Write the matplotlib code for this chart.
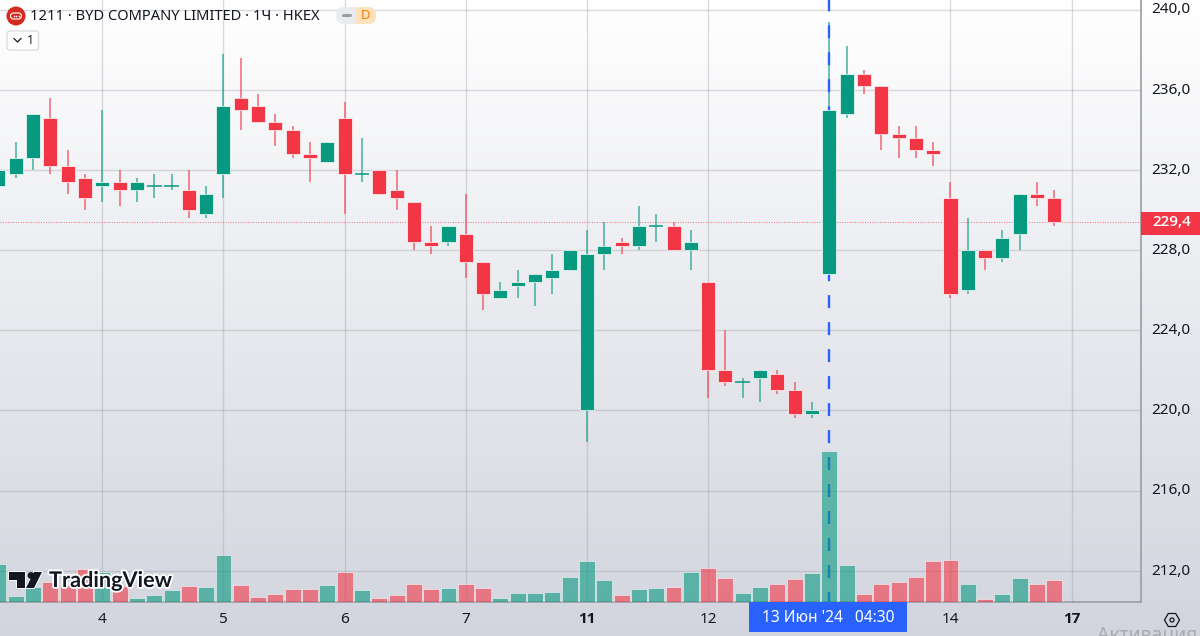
import numpy as np
import matplotlib
matplotlib.use('Agg')
from matplotlib import pyplot as plt
from matplotlib import ticker
from matplotlib.colors import LinearSegmentedColormap
from matplotlib.patches import Circle, FancyBboxPatch, Polygon, Rectangle, RegularPolygon
from matplotlib.transforms import ScaledTranslation
import matplotlib.patheffects as pe

# candle data, first candle is index -6, index 0 is the "4" day tick
opens = [231.2,231.8,232.6,234.6,232.2,231.6,231.2,231.4,231.0,231.2,231.2,231.0,229.8,231.8,
         235.6,235.2,234.4,234.0,232.8,232.4,234.6,231.8,232.0,231.0,230.4,228.4,228.4,228.8,
         227.4,225.6,226.2,226.4,226.6,227.0,220.0,227.8,228.4,228.2,229.2,229.2,228.0,226.4,
         222.0,221.4,221.6,221.8,221.0,219.8,226.8,234.8,236.8,236.2,233.8,233.6,233.0,230.6,
         226.0,228.0,227.6,228.8,230.8,230.6]
highs = [232.0,233.4,234.8,235.6,233.0,231.8,235.0,232.0,231.6,231.8,231.8,232.0,231.2,237.8,
         237.6,235.8,234.8,234.2,233.4,233.4,235.4,233.6,232.0,232.0,230.4,229.2,229.2,230.8,
         227.4,226.4,227.0,226.8,227.8,228.0,229.0,229.4,228.6,230.2,229.8,229.4,229.0,226.4,
         224.0,221.6,222.0,222.0,221.4,220.4,239.4,238.2,237.0,236.2,234.2,234.2,233.4,231.4,
         229.6,228.0,229.0,230.8,231.4,231.0]
lows = [231.2,231.6,232.0,231.8,230.8,230.0,230.4,230.2,230.4,230.6,231.0,229.6,229.6,230.6,
        234.0,234.4,233.2,232.6,231.4,232.4,229.8,231.4,230.8,230.0,228.0,227.8,228.2,226.6,
        225.0,225.6,225.6,225.2,225.8,227.0,218.4,227.0,227.8,228.0,228.4,228.0,227.0,220.6,
        221.2,220.6,220.4,220.8,219.6,219.6,226.6,234.6,235.8,233.0,232.6,232.6,232.2,225.6,
        225.8,227.0,227.4,228.0,230.2,229.2]
closes = [232.0,232.6,234.8,232.2,231.4,230.6,231.4,231.0,231.4,231.2,231.2,230.0,230.8,235.2,
          235.0,234.4,234.0,232.8,232.6,233.4,231.8,231.8,230.8,230.6,228.4,228.2,229.2,227.4,
          225.8,226.0,226.4,226.8,227.0,228.0,227.8,228.2,228.2,229.2,229.2,228.0,228.4,222.0,
          221.4,221.4,222.0,221.0,219.8,220.0,235.0,236.8,236.2,233.8,233.6,233.0,232.8,225.8,
          228.0,227.6,228.6,230.8,230.6,229.4]
volumes = [38,6,15,20,17,33,30,16,4,7,12,16,15,47,17,5,8,13,13,17,30,12,4,7,18,13,14,18,14,4,
           9,9,10,25,41,22,7,13,14,15,30,34,24,9,15,18,23,29,151,37,8,18,20,25,41,42,18,3,8,24,18,22]

price_ticks = [212, 216, 220, 224, 228, 232, 236, 240]
day_ticks = [0, 7, 14, 21, 28, 35, 49, 56]
day_labels = ['4', '5', '6', '7', '11', '12', '14', '17']
bold_days = ['11', '17']
last_price = 229.4
cross_index = 42
cross_label = "13 Июн '24   04:30"

GREEN = '#089981'
RED = '#F23645'
BLUE = '#2962FF'
TEXT = '#131722'
GRID = '#9598a1'
W, H = 1200, 636
plt.rcParams['font.family'] = ['Noto Sans', 'DejaVu Sans']

o, h, l, c = [np.array(a) for a in (opens, highs, lows, closes)]
idx = np.arange(len(o)) - 6
up = c >= o
cols = np.where(up, GREEN, RED)

fig = plt.figure(figsize=(W/100, H/100), dpi=100)

# background gradient
bg = fig.add_axes([0, 0, 1, 1], zorder=-1)
cmap = LinearSegmentedColormap.from_list('bg', ['#ffffff', '#d2d5de'])
bg.imshow(np.linspace(0, 1, 256).reshape(-1, 1), aspect='auto', cmap=cmap)
bg.axis('off')

# price pane
rect = [0, (H-602)/H, 1141/W, 602/H]
ax = fig.add_axes(rect, zorder=1)
ax.patch.set_visible(False)
ax.set_xlim(-102.3/17.31, (1141-102.3)/17.31)
ax.set_ylim(210.44, 240.48)
for s in ['top', 'left']:
    ax.spines[s].set_visible(False)
for s in ['right', 'bottom']:
    ax.spines[s].set_color('#9a9da6')
    ax.spines[s].set_linewidth(1.2)
ax.yaxis.tick_right()
ax.set_yticks(price_ticks)
ax.yaxis.set_major_formatter(ticker.FuncFormatter(lambda v, p: ('%.1f' % v).replace('.', ',')))
ax.set_xticks(day_ticks)
ax.set_xticklabels(day_labels)
ax.tick_params(length=0, labelsize=11, labelcolor=TEXT)
ax.tick_params(axis='y', pad=7.5)
ax.tick_params(axis='x', pad=7.5)
for t in ax.get_xticklabels():
    if t.get_text() in bold_days:
        t.set_fontfamily('Open Sans')
        t.set_fontweight('bold')
# price labels sit a little above their grid lines
lift = ScaledTranslation(0, 1.2/72, fig.dpi_scale_trans)
for t in ax.get_yticklabels():
    t.set_transform(t.get_transform() + lift)
ax.grid(True, color=GRID, alpha=0.35, lw=1.0, zorder=1)
ax.set_axisbelow(True)

# crosshair and last price
ax.axvline(cross_index, color=BLUE, lw=1.7, ls=(1.27, (5.5, 5.93)), zorder=4.5)
ax.axhline(last_price, color=RED, lw=0.7, ls=(0, (1, 1.6)), alpha=0.7, zorder=2)

# candles
ax.vlines(idx[up], l[up], h[up], color=GREEN, lw=1.1, alpha=0.75, zorder=4)
ax.vlines(idx[~up], l[~up], h[~up], color=RED, lw=1.1, alpha=0.75, zorder=4)
body = o != c
ax.bar(idx[body], np.abs(c-o)[body], bottom=np.minimum(o, c)[body], width=0.81,
       color=cols[body], edgecolor=(1, 1, 1, 0.7), linewidth=0.7, zorder=5)
ax.hlines(c[~body], idx[~body]-0.42, idx[~body]+0.42, color=GREEN, lw=1.1, zorder=5)

# volume pane
ax_vol = fig.add_axes(rect, zorder=2)
ax_vol.patch.set_visible(False)
ax_vol.set_xlim(ax.get_xlim())
ax_vol.set_ylim(0, 602)
ax_vol.axis('off')
ax_vol.bar(idx, volumes, width=0.92, color=cols, alpha=0.6,
           edgecolor=(1, 1, 1, 0.35), linewidth=0.6)

# overlay in pixels, for header, badges and logo
ov = fig.add_axes([0, 0, 1, 1], zorder=3)
ov.set_xlim(0, W)
ov.set_ylim(H, 0)
ov.axis('off')

# price label
ov.add_patch(Rectangle((1141, 212), 59, 23, color=RED, lw=0))
ov.text(1152, 222.5, '229,4', color='white', fontsize=11, va='center', ha='left',
        family='Open Sans', fontweight='semibold')

# date label
ov.add_patch(Rectangle((749, 602), 158, 30, color=BLUE, lw=0))
ov.text(828.5, 618.5, cross_label, color='white', fontsize=11.2, va='center', ha='center')

# title row
ov.add_patch(Circle((16, 16), 9.5, color='#D32B20', lw=0))
ov.add_patch(FancyBboxPatch((10.5, 13), 11, 6, boxstyle='round,pad=0,rounding_size=3', fc='none', ec='white', lw=0.8))
ov.scatter([13.5, 16, 18.5], [16, 16, 16], s=1.5, color='white', lw=0)
ov.text(30, 16, '1211 · BYD COMPANY LIMITED · 1Ч · HKEX', color=TEXT, fontsize=10.6, va='center', ha='left')
ov.add_patch(FancyBboxPatch((336, 7), 40, 17, boxstyle='round,pad=0,rounding_size=8', fc='#e9ebef', ec='none'))
ov.add_patch(FancyBboxPatch((356, 7), 20, 17, boxstyle='round,pad=0,rounding_size=8', fc='#fde2bd', ec='none'))
ov.add_patch(Rectangle((356, 7), 8, 17, fc='#fde2bd', ec='none'))
ov.add_patch(FancyBboxPatch((342, 14), 10, 3, boxstyle='round,pad=0,rounding_size=1.5', fc='#9a9da6', ec='none'))
ov.text(366, 15.5, 'D', color='#F57C00', fontsize=9.5, va='center', ha='center')

# collapse button
ov.add_patch(FancyBboxPatch((7, 31), 31.5, 19, boxstyle='round,pad=0,rounding_size=2.5', fc='white', ec='#d8dae0', lw=0.9))
ov.plot([14, 17.5, 21], [38.5, 42, 38.5], color=TEXT, lw=0.9)
ov.text(30, 40.5, '1', color=TEXT, fontsize=9, va='center', ha='center')

# logo
halo = [pe.withStroke(linewidth=2.6, foreground='white')]
for pts in ([(9, 572), (25, 572), (25, 588), (17, 588), (17, 579.5), (9, 579.5)],
            [(34, 572), (42, 572), (34, 588), (26, 588)]):
    ov.add_patch(Polygon(pts, fc='#131722', ec='white', lw=1.4, joinstyle='round', zorder=3))
    ov.add_patch(Polygon(pts, fc='#131722', ec='none', zorder=4))
ov.add_patch(Circle((31, 575.5), 3.4, fc='#131722', ec='none', zorder=4))
ov.text(49, 580.5, 'TradingView', color='#131722', fontsize=15.6, fontweight='bold', va='center', ha='left',
        family=['Lato', 'DejaVu Sans'], path_effects=halo, zorder=4)

# settings icon
ov.add_patch(RegularPolygon((1172, 620), 6, radius=7.5, orientation=np.pi/2, fc='none', ec=TEXT, lw=0.9))
ov.add_patch(Circle((1172, 620), 2, fc='none', ec=TEXT, lw=0.9))

# windows watermark, cut off by the picture edge
ov.text(1097, 635, 'Активация', color='#a9abb1', fontsize=14, va='center', ha='left', clip_on=True)

fig.savefig('out.png', dpi=100)
